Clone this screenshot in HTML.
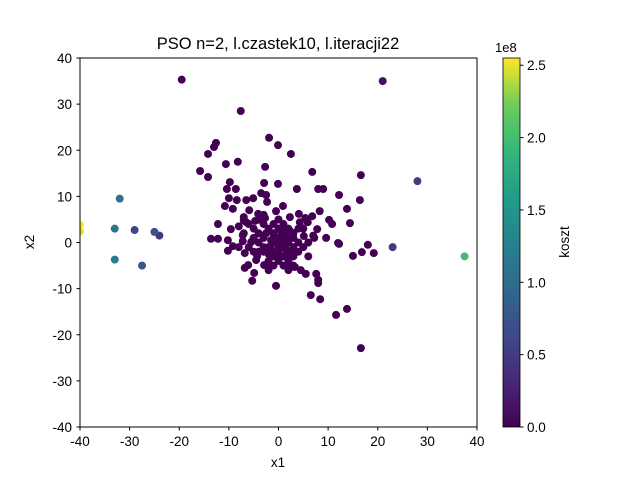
<!DOCTYPE html>
<html><head><meta charset="utf-8"><style>
body{margin:0;background:#fff;}
svg{font-family:"Liberation Sans","DejaVu Sans",sans-serif;}
</style></head><body>
<svg id="chart" width="640" height="480" xmlns="http://www.w3.org/2000/svg">
<defs>
<clipPath id="clip"><rect x="80" y="58" width="397" height="369"/></clipPath>
<linearGradient id="vir" x1="0" y1="1" x2="0" y2="0">
<stop offset="0" stop-color="#440154"/><stop offset="0.125" stop-color="#482878"/><stop offset="0.25" stop-color="#3e4a89"/><stop offset="0.375" stop-color="#31688e"/><stop offset="0.5" stop-color="#26828e"/><stop offset="0.625" stop-color="#1f9e89"/><stop offset="0.75" stop-color="#35b779"/><stop offset="0.875" stop-color="#6ece58"/><stop offset="1" stop-color="#fde725"/>
</linearGradient>
</defs>
<text x="278" y="49" text-anchor="middle" font-size="16.5">PSO n=2, l.czastek10, l.iteracji22</text>
<g id="points" clip-path="url(#clip)"></g>
<rect x="80" y="58" width="397" height="369" fill="none" stroke="#000" stroke-width="1"/>
<g id="axes"></g>
<text x="278" y="467" text-anchor="middle" font-size="13.5">x1</text>
<text x="34" y="242" text-anchor="middle" font-size="13.5" transform="rotate(-90 34 242)">x2</text>
<rect x="503" y="58" width="17" height="369" fill="url(#vir)" stroke="#000" stroke-width="0.8"/>
<text x="495" y="52" font-size="13">1e8</text>
<text x="569" y="242" text-anchor="middle" font-size="13.5" transform="rotate(-90 569 242)">koszt</text>
</svg>
<script>
const xs=[-40,-40,37.5,-32,-33,-33,-29,-27.5,-25,-24,28,23,-19.5,21,
-7.6,-1.9,-0.1,-13,-12.6,2.5,-14.2,-8.2,-10.6,-15.8,-2.7,6.8,16.6,-14.2,-9.8,-2.9,-0.1,3.7,8,9,12.2,-10.4,-8.6,-3.5,-2.5,-10,-8.4,-6.5,-5.1,16.4,-2.3,0.9,-10.8,-9.2,13.8,-5.9,8.3,-0.5,4.1,6.8,-7,-4.1,-3.7,-2.7,5.4,2.3,-12.2,-6.5,-4.7,4.3,5.9,10.2,10.8,14.4,-9.6,-7.2,0.9,2.3,4.9,7.8,5.1,2.9,-13.6,-12.2,-10.2,-7.2,-5.5,7.2,9.6,12,12.2,15,16.8,18,19.2,-9.2,-10.2,-6.8,-4.3,-6.1,-4.5,-2.9,-2.1,-4.9,-6.8,-5.3,-0.5,2.3,3.3,4.5,5.5,7.6,8,8,6.5,8.4,11.6,13.8,16.6,
-1,0,1,-2,2,0,-1,1,-3,3,0,-2,2,1,-1,-3,3,0,-2,2,-4,4,-3,1,-1,3,-0.5,0.5,1.5,-1.5,2.5,-2.5,0,-4,-4,4,4,-3,1,-1,-5,5,2,-6,-7,-8,-5,6,6,3,0.5,-0.5,2,-2,1,-1,0,1.5,-1.5,3,-5,-6,-4,-7,-8,-3,7,5,-2,2,0];
const ys=[3.8,2.4,-3,9.5,3,-3.7,2.7,-5,2.3,1.5,13.3,-1,35.3,35,
28.5,22.7,21.1,20.7,21.6,19.2,19.2,17.5,17,15.5,16.4,15.3,14.6,14.2,13.1,12.9,12.7,11.6,11.6,11.6,10.3,11.6,11.6,10.7,10.3,9.6,9.2,9.2,9.6,9.2,8.8,7.9,7.9,7.3,7.3,7,6.8,6.8,6.2,5.7,5.5,6.2,4.9,5.3,5.3,5.5,4,4.4,4.7,4.4,4.4,4.9,4,4.2,2.9,1.6,2.7,2.5,3.1,2.9,1.4,1.2,0.8,0.8,0.5,0.3,0.1,1,1,-0.1,-0.3,-2.9,-2.1,-0.5,-2.3,-0.8,-1.8,-2.3,-2.9,-4.9,-3.8,-4.9,-4.4,-6.6,-5.5,-8.3,-9.4,-5.5,-5.3,-6,-6.8,-6.8,-8.8,-8.1,-11.4,-12.3,-15.7,-14.4,-22.9,
0,1,-1,-1,0,-2,2,2,1,-1,3,3,3,-3,-3,-2,2,-4,-4,-4,0,0,-1,4,4,-3,0.5,-0.5,1,-1.5,-2,2,5,2,-2,-2,3,4,-5,-5,1,-1,-6,-1,2,-1,-2,0,-3,-5,2.5,-2.5,1.5,-2.5,0.5,1,-1,-1.5,0.5,1,3,4,5,4.8,3.5,6,1.5,3,-6,-3,-3];
const costs=[2.55,2.5,2.0,1.05,1.1,1.2,0.6,0.75,0.7,0.45,0.5,0.5,0.02,0.1];
const xTicks=[-40,-30,-20,-10,0,10,20,30,40];
const yTicks=[-40,-30,-20,-10,0,10,20,30,40];
const cTicks=[0,0.5,1.0,1.5,2.0,2.5];
const CMAX=2.55;
const sx=v=>80+(v+40)*397/80;
const sy=v=>427-(v+40)*369/80;
const sc=v=>427-v*369/CMAX;
const stops=[[68,1,84],[72,40,120],[62,74,137],[49,104,142],[38,130,142],[31,158,137],[53,183,121],[110,206,88],[253,231,37]];
function vir(t){t=Math.max(0,Math.min(1,t))*8;const i=Math.min(7,Math.floor(t)),f=t-i;const a=stops[i],b=stops[i+1];return `rgb(${a.map((c,k)=>Math.round(c+(b[k]-c)*f)).join(',')})`;}
const NS="http://www.w3.org/2000/svg";
const g=document.getElementById('points');
for(let i=xs.length-1;i>=0;i--){
  const c=document.createElementNS(NS,'circle');
  c.setAttribute('cx',sx(xs[i]));c.setAttribute('cy',sy(ys[i]));c.setAttribute('r',4);
  c.setAttribute('fill',vir((costs[i]||0)/CMAX));
  
  
  g.appendChild(c);
}
const ax=document.getElementById('axes');
function add(tag,attrs,text){const e=document.createElementNS(NS,tag);for(const k in attrs)e.setAttribute(k,attrs[k]);if(text!=null)e.textContent=text;ax.appendChild(e);return e;}
xTicks.forEach(t=>{
  add('line',{x1:sx(t),x2:sx(t),y1:427,y2:430.5,stroke:'#000'});
  const e=add('text',{x:sx(t),y:446,'text-anchor':'middle','font-size':13.5},t);
  
  
});
yTicks.forEach(t=>{
  add('line',{x1:76.5,x2:80,y1:sy(t),y2:sy(t),stroke:'#000'});
  const e=add('text',{x:72,y:sy(t)+5,'text-anchor':'end','font-size':13.5},t);
  
  
});
cTicks.forEach(t=>{
  add('line',{x1:520,x2:523.5,y1:sc(t),y2:sc(t),stroke:'#000'});
  const e=add('text',{x:527,y:sc(t)+5,'font-size':13.5},t.toFixed(1));
  
  
});
</script>
</body></html>
